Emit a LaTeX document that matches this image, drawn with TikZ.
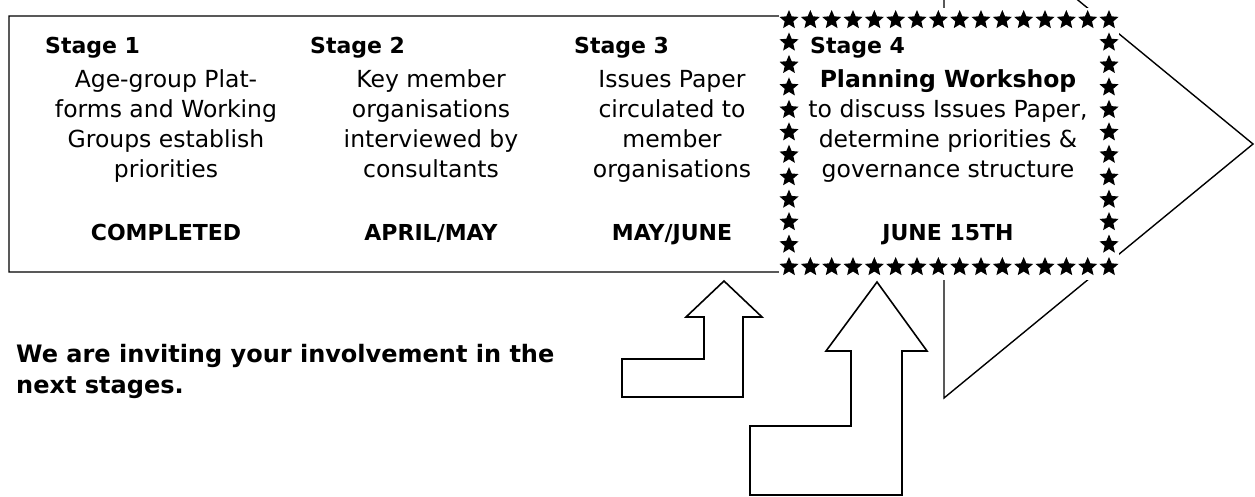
\documentclass[tikz,border=0pt]{standalone}
\usepackage{fontspec}
\setmainfont{DejaVu Sans}
\usetikzlibrary{shapes.geometric}
\newcommand{\stagefont}{\fontsize{23.5}{30}\selectfont}
\newcommand{\datefont}{\fontsize{22}{30}\selectfont\bfseries}

\tikzset{
  stagelbl/.style={anchor=base west, inner sep=0pt, font=\datefont},
  stagetxt/.style={anchor=base, inner sep=0pt, align=center, font=\stagefont},
  stagedate/.style={anchor=base, inner sep=0pt, font=\datefont},
  starmark/.style={star, star points=5, star point ratio=2.2, fill=black, inner sep=0pt, minimum size=20pt},
  blockarrow/.style={draw=black, line width=1.4pt, line join=miter}
}

\begin{document}
\begin{tikzpicture}[x=1pt,y=-1pt]
\useasboundingbox (0,0) rectangle (1255,496);
\clip (0,0) rectangle (1255,496);
\draw[blockarrow] (9,16) -- (944,16) -- (944,-110) -- (1253,144) -- (944,398) -- (944,272) -- (9,272) -- cycle;
\fill[white] (779,8) rectangle (1119,280);
\foreach \i in {0,...,15} {
  \node[starmark] (top\i) at ({789+\i*21.333},20) {};
  \node[starmark] (bot\i) at ({789+\i*21.333},267) {};
}
\foreach \j in {1,...,10} {
  \node[starmark] (lft\j) at (789,{20+\j*22.45}) {};
  \node[starmark] (rgt\j) at (1109,{20+\j*22.45}) {};
}
\node[stagelbl] (s1) at (45,53) {Stage 1};
\node[stagetxt] (d1) at (166,177) {Age-group Plat-\\forms and Working\\Groups establish\\priorities};
\node[stagedate] (c1) at (166,240) {COMPLETED};
\node[stagelbl] (s2) at (310,53) {Stage 2};
\node[stagetxt] (d2) at (431,177) {Key member\\organisations\\interviewed by\\consultants};
\node[stagedate] (c2) at (431,240) {APRIL/MAY};
\node[stagelbl] (s3) at (574,53) {Stage 3};
\node[stagetxt] (d3) at (672,177) {Issues Paper\\circulated to\\member\\organisations};
\node[stagedate] (c3) at (672,240) {MAY/JUNE};
\node[stagelbl] (s4) at (810,53) {Stage 4};
\node[stagetxt] (d4) at (948,177) {\textbf{Planning Workshop}\\to discuss Issues Paper,\\determine priorities \&\\governance structure};
\node[stagedate] (c4) at (948,240) {JUNE 15TH};
\node[stagelbl, align=left, font=\fontsize{24}{31}\selectfont\bfseries] (invite) at (16,393) {We are inviting your involvement in the\\next stages.};
\draw[blockarrow, line width=1.6pt] (622,359) -- (704,359) -- (704,317) -- (686,317) -- (724,281) -- (762,317) -- (743,317) -- (743,397) -- (622,397) -- cycle;
\draw[blockarrow, line width=1.6pt] (750,426) -- (851,426) -- (851,351) -- (826,351) -- (877,282) -- (927,351) -- (902,351) -- (902,495) -- (750,495) -- cycle;
\end{tikzpicture}
\end{document}
